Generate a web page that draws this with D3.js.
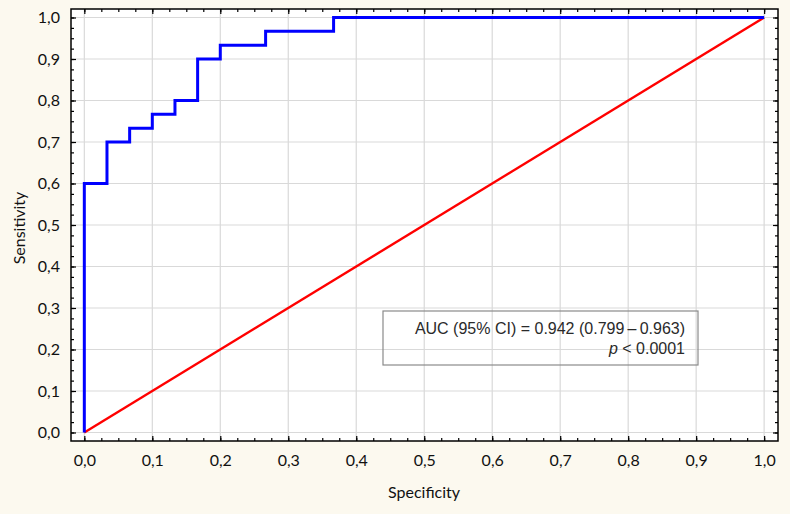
<!DOCTYPE html>
<html><head><meta charset="utf-8">
<script src="https://cdn.jsdelivr.net/npm/d3@7"></script>
<style>body{margin:0;background:#fcf9ef;} svg{display:block;}</style>
</head><body>
<svg id="c" width="790" height="514"></svg>
<script>
// ROC curve points (1 - specificity axis labelled "Specificity", sensitivity)
const rocX = [0, 0, 1/30, 1/30, 2/30, 2/30, 3/30, 3/30, 4/30, 4/30, 5/30, 5/30, 6/30, 6/30, 8/30, 8/30, 11/30, 11/30, 1];
const rocY = [0, 0.6, 0.6, 0.7, 0.7, 22/30, 22/30, 23/30, 23/30, 0.8, 0.8, 0.9, 0.9, 28/30, 28/30, 29/30, 29/30, 1, 1];
const refX = [0, 1];
const refY = [0, 1];
const tickValues = [0, 0.1, 0.2, 0.3, 0.4, 0.5, 0.6, 0.7, 0.8, 0.9, 1.0];
const tickLabels = ["0,0","0,1","0,2","0,3","0,4","0,5","0,6","0,7","0,8","0,9","1,0"];
const minorTicks = d3.range(0, 41).map(i => i * 0.025);
const xTitle = "Specificity";
const yTitle = "Sensitivity";
const aucLine1 = "AUC (95% CI) = 0.942 (0.799\u2009\u2013\u20090.963)";
const aucLine2P = "p";
const aucLine2Rest = " < 0.0001";

const svg = d3.select("#c");
svg.append("rect").attr("width",790).attr("height",514).attr("fill","#fcf9ef");

const L = 71, R = 778, T = 9, B = 441;
const x = d3.scaleLinear().domain([-0.0196, 1.0204]).range([L, R]);
const y = d3.scaleLinear().domain([-0.0205, 1.0205]).range([B, T]);

// plot area
svg.append("rect").attr("x",L).attr("y",T).attr("width",R-L).attr("height",B-T).attr("fill","#ffffff");

// grid
const g = svg.append("g");
g.selectAll(".gx").data(tickValues).enter().append("line")
  .attr("x1",d=>x(d)).attr("x2",d=>x(d)).attr("y1",T).attr("y2",B)
  .attr("stroke","#d9d9d9").attr("stroke-width",1.2);
g.selectAll(".gy").data(tickValues).enter().append("line")
  .attr("y1",d=>y(d)).attr("y2",d=>y(d)).attr("x1",L).attr("x2",R)
  .attr("stroke","#d9d9d9").attr("stroke-width",1.2);

// AUC box
const box = svg.append("g");
box.append("rect").attr("x",383).attr("y",311).attr("width",315).attr("height",54)
  .attr("fill","none").attr("stroke","#8a8a8a").attr("stroke-width",1.2);
box.append("text").attr("x",685).attr("y",334).attr("text-anchor","end")
  .attr("font-family","Liberation Sans, Arial, sans-serif").attr("font-size",16).attr("fill","#2a2a2a")
  .text(aucLine1);
const t2 = box.append("text").attr("x",685).attr("y",354).attr("text-anchor","end")
  .attr("font-family","Liberation Sans, Arial, sans-serif").attr("font-size",16).attr("fill","#2a2a2a");
t2.append("tspan").attr("font-style","italic").text(aucLine2P);
t2.append("tspan").text(aucLine2Rest);

// lines
const line = d3.line().x(d=>x(d[0])).y(d=>y(d[1]));
svg.append("path").datum(refX.map((v,i)=>[v,refY[i]])).attr("d",line)
  .attr("fill","none").attr("stroke","#ff0000").attr("stroke-width",2.4);
svg.append("path").datum(rocX.map((v,i)=>[v,rocY[i]])).attr("d",line)
  .attr("fill","none").attr("stroke","#0000ff").attr("stroke-width",3);

// frame
svg.append("rect").attr("x",L).attr("y",T).attr("width",R-L).attr("height",B-T)
  .attr("fill","none").attr("stroke","#000").attr("stroke-width",1.5);

// axes with inward ticks
const fmt = d => tickLabels[tickValues.findIndex(v=>Math.abs(v-d)<1e-9)];
function axisStyle(sel){ sel.select(".domain").remove(); sel.selectAll(".tick line").attr("stroke","#000").attr("stroke-width",1.2); }

const xAxisB = svg.append("g").attr("transform",`translate(0,${B})`)
  .call(d3.axisBottom(x).tickValues(tickValues).tickFormat(fmt).tickSizeInner(-5).tickSizeOuter(0).tickPadding(14));
axisStyle(xAxisB);
xAxisB.selectAll(".tick text").attr("font-family","Lato, 'Open Sans', sans-serif").attr("font-size",16).attr("fill","#111");
const xMinB = svg.append("g").attr("transform",`translate(0,${B})`)
  .call(d3.axisBottom(x).tickValues(minorTicks).tickFormat("").tickSizeInner(-3).tickSizeOuter(0));
axisStyle(xMinB);
const xAxisT = svg.append("g").attr("transform",`translate(0,${T})`)
  .call(d3.axisTop(x).tickValues(minorTicks).tickFormat("").tickSizeInner(-3).tickSizeOuter(0));
axisStyle(xAxisT);
const xAxisT2 = svg.append("g").attr("transform",`translate(0,${T})`)
  .call(d3.axisTop(x).tickValues(tickValues).tickFormat("").tickSizeInner(-5).tickSizeOuter(0));
axisStyle(xAxisT2);

const yAxisL = svg.append("g").attr("transform",`translate(${L},0)`)
  .call(d3.axisLeft(y).tickValues(tickValues).tickFormat(fmt).tickSizeInner(-5).tickSizeOuter(0).tickPadding(11));
axisStyle(yAxisL);
yAxisL.selectAll(".tick text").attr("font-family","Lato, 'Open Sans', sans-serif").attr("font-size",16).attr("fill","#111");
const yMinL = svg.append("g").attr("transform",`translate(${L},0)`)
  .call(d3.axisLeft(y).tickValues(minorTicks).tickFormat("").tickSizeInner(-3).tickSizeOuter(0));
axisStyle(yMinL);
const yAxisR = svg.append("g").attr("transform",`translate(${R},0)`)
  .call(d3.axisRight(y).tickValues(minorTicks).tickFormat("").tickSizeInner(-3).tickSizeOuter(0));
axisStyle(yAxisR);
const yAxisR2 = svg.append("g").attr("transform",`translate(${R},0)`)
  .call(d3.axisRight(y).tickValues(tickValues).tickFormat("").tickSizeInner(-5).tickSizeOuter(0));
axisStyle(yAxisR2);

// titles
svg.append("text").attr("x",424).attr("y",498).attr("text-anchor","middle")
  .attr("font-family","Lato, 'Open Sans', sans-serif").attr("font-size",16).attr("fill","#111").text(xTitle);
svg.append("text").attr("transform","translate(25,228) rotate(-90)").attr("text-anchor","middle")
  .attr("font-family","Lato, 'Open Sans', sans-serif").attr("font-size",16).attr("fill","#111").text(yTitle);
</script>
</body></html>
